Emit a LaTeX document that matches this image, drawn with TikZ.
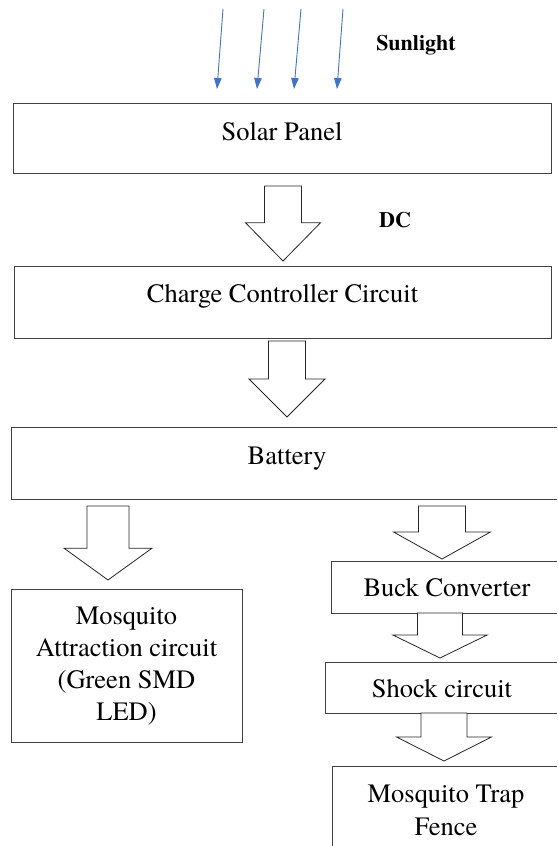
\documentclass[tikz,border=0pt]{standalone}
\usepackage{fontspec}
\setmainfont{texgyretermes}[Extension=.otf,UprightFont=*-regular,BoldFont=*-bold]
\usepackage{tikz}
\usetikzlibrary{arrows.meta,calc}
\definecolor{sun blue}{HTML}{4472C4}
\colorlet{box line}{black!75}
\tikzstyle{block} = [draw=box line,line width=1pt,inner sep=0pt,font=\rmfamily\fontsize{26.5}{32}\selectfont,align=center]
\tikzstyle{fat arrow} = [draw=black!85,line width=.8pt,fill=white,line join=miter]
\tikzstyle{ray} = [sun blue,line width=.9pt,-{Triangle[width=7.5pt,length=11pt]}]
\tikzstyle{tag} = [font=\rmfamily\fontsize{22}{26}\selectfont\bfseries,inner sep=0pt,anchor=base]

% hollow block arrow: tail, tip, where the head starts, half shaft, half head
\newcommand{\fatarrow}[5]{%
  \draw[fat arrow] let \p1=(#1), \p2=(#2), \p3=($(#1)!#3!(#2)$) in
    (\x1-#4,\y1) -- (\x1+#4,\y1) -- (\x1+#4,\y3) -- (\x1+#5,\y3) -- (\x2,\y2)
    -- (\x1-#5,\y3) -- (\x1-#4,\y3) -- cycle;}

\begin{document}
\begin{tikzpicture}[x=1pt,y=-1pt]
    \useasboundingbox (0,0) rectangle (557,846);
    \clip (0,0) rectangle (557,846);

    \foreach \i/\xa/\xb in {1/223/217,2/264/257,3/301/294,4/343/337} {
        \coordinate (ray\i a) at (\xa,9);
        \coordinate (ray\i b) at (\xb,89);
        \draw[ray] (ray\i a) -- (ray\i b);
    }
    \node[tag] (sunlight) at (416,50) {Sunlight};

    \node[block,minimum width=538pt,minimum height=70pt,text height=19pt,text depth=15pt] (solar) at (282,138) {Solar Panel};
    \node[block,minimum width=537pt,minimum height=72pt,text height=19pt,text depth=19pt] (charger) at (282.5,302) {Charge Controller Circuit};
    \node[block,minimum width=552pt,minimum height=72pt,text height=19pt,text depth=17pt] (battery) at (287,463) {Battery};

    \node[block,minimum width=231pt,minimum height=153pt,text depth=4pt] (attract) at (126.5,665.5) {Mosquito\\Attraction circuit\\(Green SMD\\LED)};

    \node[block,minimum width=232pt,minimum height=52pt,text height=19pt,text depth=0pt] (buck) at (447,587) {Buck Converter};
    \node[block,minimum width=234pt,minimum height=51pt,text height=19pt,text depth=0pt] (shock) at (442,687.5) {Shock circuit};
    \node[block,minimum width=228pt,minimum height=88pt,font=\rmfamily\fontsize{26.5}{33}\selectfont] (fence) at (446,810) {Mosquito Trap\\Fence};

    \node[tag] (dc) at (395,227) {DC};

    \coordinate (a1) at (283,186);   \coordinate (a1 tip) at (283,261);
    \coordinate (a2) at (287,341);   \coordinate (a2 tip) at (287,417);
    \coordinate (a3) at (108,506);   \coordinate (a3 tip) at (108,580);
    \coordinate (a4) at (442,506);   \coordinate (a4 tip) at (442,559);
    \coordinate (a5) at (440,613);   \coordinate (a5 tip) at (440,658);
    \coordinate (a6) at (444,713);   \coordinate (a6 tip) at (444,761);

    \fatarrow{a1}{a1 tip}{.49}{18.5pt}{37.5pt}
    \fatarrow{a2}{a2 tip}{.5}{18.5pt}{38pt}
    \fatarrow{a3}{a3 tip}{.57}{21pt}{44pt}
    \fatarrow{a4}{a4 tip}{.49}{23.5pt}{48.5pt}
    \fatarrow{a5}{a5 tip}{.49}{22.5pt}{47pt}
    \fatarrow{a6}{a6 tip}{.5}{23pt}{47.5pt}
\end{tikzpicture}
\end{document}
